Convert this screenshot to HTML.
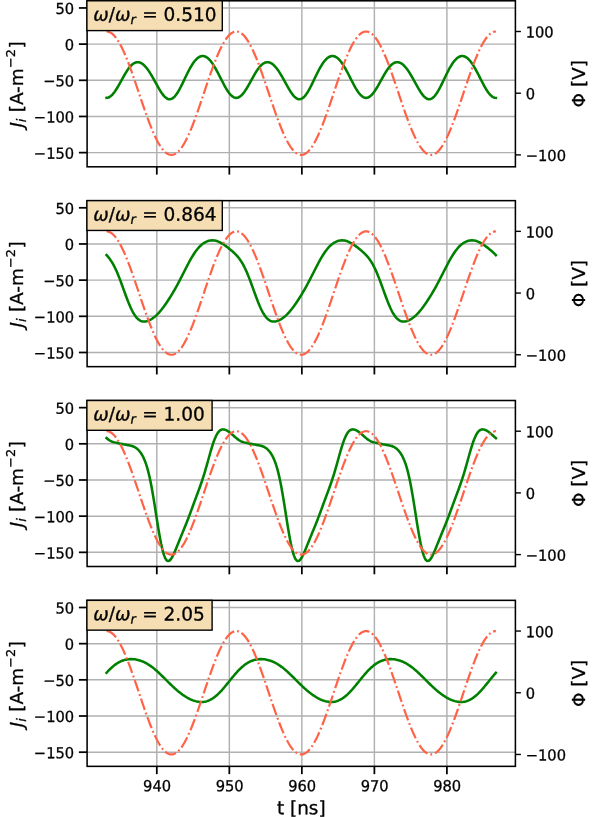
<!DOCTYPE html><html><head><meta charset="utf-8"><title>plot</title><style>html,body{margin:0;padding:0;background:#fff}svg{display:block}text{font-family:'DejaVu Sans', 'Liberation Sans', sans-serif;fill:#000;stroke:#000;stroke-width:0.3px}</style></head><body>
<svg width="594" height="817" viewBox="0 0 594 817">
<rect width="594" height="817" fill="#fff"/>
<g>
<clipPath id="c0"><rect x="87.10" y="0.80" width="428.30" height="166.00"/></clipPath>
<line x1="156.80" y1="0.80" x2="156.80" y2="166.80" stroke="#b0b0b0" stroke-width="1.45"/>
<line x1="229.33" y1="0.80" x2="229.33" y2="166.80" stroke="#b0b0b0" stroke-width="1.45"/>
<line x1="301.85" y1="0.80" x2="301.85" y2="166.80" stroke="#b0b0b0" stroke-width="1.45"/>
<line x1="374.38" y1="0.80" x2="374.38" y2="166.80" stroke="#b0b0b0" stroke-width="1.45"/>
<line x1="446.90" y1="0.80" x2="446.90" y2="166.80" stroke="#b0b0b0" stroke-width="1.45"/>
<line x1="87.10" y1="7.95" x2="515.40" y2="7.95" stroke="#b0b0b0" stroke-width="1.45"/>
<line x1="87.10" y1="44.12" x2="515.40" y2="44.12" stroke="#b0b0b0" stroke-width="1.45"/>
<line x1="87.10" y1="80.29" x2="515.40" y2="80.29" stroke="#b0b0b0" stroke-width="1.45"/>
<line x1="87.10" y1="116.46" x2="515.40" y2="116.46" stroke="#b0b0b0" stroke-width="1.45"/>
<line x1="87.10" y1="152.63" x2="515.40" y2="152.63" stroke="#b0b0b0" stroke-width="1.45"/>
<path d="M106.54 97.87 L107.52 97.77 L108.49 97.48 L109.47 97.01 L110.44 96.37 L111.42 95.55 L112.40 94.58 L113.37 93.45 L114.35 92.19 L115.32 90.81 L116.30 89.32 L117.27 87.73 L118.25 86.08 L119.23 84.36 L120.20 82.61 L121.18 80.84 L122.15 79.07 L123.13 77.31 L124.10 75.59 L125.08 73.92 L126.06 72.31 L127.03 70.78 L128.01 69.35 L128.98 68.03 L129.96 66.82 L130.94 65.73 L131.91 64.78 L132.89 63.97 L133.86 63.31 L134.84 62.79 L135.81 62.43 L136.79 62.21 L137.77 62.15 L138.74 62.24 L139.72 62.47 L140.69 62.86 L141.67 63.38 L142.65 64.04 L143.62 64.84 L144.60 65.76 L145.57 66.80 L146.55 67.97 L147.52 69.24 L148.50 70.61 L149.48 72.07 L150.45 73.61 L151.43 75.23 L152.40 76.90 L153.38 78.62 L154.36 80.38 L155.33 82.15 L156.31 83.93 L157.28 85.69 L158.26 87.42 L159.23 89.09 L160.21 90.70 L161.19 92.23 L162.16 93.64 L163.14 94.93 L164.11 96.08 L165.09 97.07 L166.06 97.89 L167.04 98.53 L168.02 98.97 L168.99 99.21 L169.97 99.25 L170.94 99.07 L171.92 98.68 L172.90 98.08 L173.87 97.28 L174.85 96.28 L175.82 95.11 L176.80 93.76 L177.77 92.26 L178.75 90.63 L179.73 88.87 L180.70 87.02 L181.68 85.09 L182.65 83.10 L183.63 81.08 L184.61 79.04 L185.58 77.00 L186.56 74.98 L187.53 73.01 L188.51 71.09 L189.48 69.24 L190.46 67.48 L191.44 65.81 L192.41 64.25 L193.39 62.81 L194.36 61.49 L195.34 60.31 L196.32 59.26 L197.29 58.35 L198.27 57.59 L199.24 56.98 L200.22 56.52 L201.19 56.21 L202.17 56.06 L203.15 56.06 L204.12 56.21 L205.10 56.52 L206.07 56.98 L207.05 57.58 L208.03 58.34 L209.00 59.24 L209.98 60.28 L210.95 61.44 L211.93 62.74 L212.90 64.15 L213.88 65.67 L214.86 67.29 L215.83 69.00 L216.81 70.78 L217.78 72.62 L218.76 74.50 L219.73 76.41 L220.71 78.34 L221.69 80.26 L222.66 82.16 L223.64 84.03 L224.61 85.83 L225.59 87.57 L226.57 89.21 L227.54 90.75 L228.52 92.17 L229.49 93.46 L230.47 94.60 L231.44 95.58 L232.42 96.40 L233.40 97.04 L234.37 97.50 L235.35 97.78 L236.32 97.87 L237.30 97.77 L238.28 97.48 L239.25 97.01 L240.23 96.37 L241.20 95.55 L242.18 94.58 L243.15 93.45 L244.13 92.19 L245.11 90.81 L246.08 89.32 L247.06 87.73 L248.03 86.08 L249.01 84.36 L249.99 82.61 L250.96 80.84 L251.94 79.07 L252.91 77.31 L253.89 75.59 L254.86 73.92 L255.84 72.31 L256.82 70.78 L257.79 69.35 L258.77 68.03 L259.74 66.82 L260.72 65.73 L261.69 64.78 L262.67 63.97 L263.65 63.31 L264.62 62.79 L265.60 62.43 L266.57 62.21 L267.55 62.15 L268.53 62.24 L269.50 62.47 L270.48 62.86 L271.45 63.38 L272.43 64.04 L273.40 64.84 L274.38 65.76 L275.36 66.80 L276.33 67.97 L277.31 69.24 L278.28 70.61 L279.26 72.07 L280.24 73.61 L281.21 75.23 L282.19 76.90 L283.16 78.62 L284.14 80.38 L285.11 82.15 L286.09 83.93 L287.07 85.69 L288.04 87.42 L289.02 89.09 L289.99 90.70 L290.97 92.23 L291.95 93.64 L292.92 94.93 L293.90 96.08 L294.87 97.07 L295.85 97.89 L296.82 98.53 L297.80 98.97 L298.78 99.21 L299.75 99.25 L300.73 99.07 L301.70 98.68 L302.68 98.08 L303.65 97.28 L304.63 96.28 L305.61 95.11 L306.58 93.76 L307.56 92.26 L308.53 90.63 L309.51 88.87 L310.49 87.02 L311.46 85.09 L312.44 83.10 L313.41 81.08 L314.39 79.04 L315.36 77.00 L316.34 74.98 L317.32 73.01 L318.29 71.09 L319.27 69.24 L320.24 67.48 L321.22 65.81 L322.20 64.25 L323.17 62.81 L324.15 61.49 L325.12 60.31 L326.10 59.26 L327.07 58.35 L328.05 57.59 L329.03 56.98 L330.00 56.52 L330.98 56.21 L331.95 56.06 L332.93 56.06 L333.91 56.21 L334.88 56.52 L335.86 56.98 L336.83 57.58 L337.81 58.34 L338.78 59.24 L339.76 60.28 L340.74 61.44 L341.71 62.74 L342.69 64.15 L343.66 65.67 L344.64 67.29 L345.62 69.00 L346.59 70.78 L347.57 72.62 L348.54 74.50 L349.52 76.41 L350.49 78.34 L351.47 80.26 L352.45 82.16 L353.42 84.03 L354.40 85.83 L355.37 87.57 L356.35 89.21 L357.32 90.75 L358.30 92.17 L359.28 93.46 L360.25 94.60 L361.23 95.58 L362.20 96.40 L363.18 97.04 L364.16 97.50 L365.13 97.78 L366.11 97.87 L367.08 97.77 L368.06 97.48 L369.03 97.01 L370.01 96.37 L370.99 95.55 L371.96 94.58 L372.94 93.45 L373.91 92.19 L374.89 90.81 L375.87 89.32 L376.84 87.73 L377.82 86.08 L378.79 84.36 L379.77 82.61 L380.74 80.84 L381.72 79.07 L382.70 77.31 L383.67 75.59 L384.65 73.92 L385.62 72.31 L386.60 70.78 L387.58 69.35 L388.55 68.03 L389.53 66.82 L390.50 65.73 L391.48 64.78 L392.45 63.97 L393.43 63.31 L394.41 62.79 L395.38 62.43 L396.36 62.21 L397.33 62.15 L398.31 62.24 L399.28 62.47 L400.26 62.86 L401.24 63.38 L402.21 64.04 L403.19 64.84 L404.16 65.76 L405.14 66.80 L406.12 67.97 L407.09 69.24 L408.07 70.61 L409.04 72.07 L410.02 73.61 L410.99 75.23 L411.97 76.90 L412.95 78.62 L413.92 80.38 L414.90 82.15 L415.87 83.93 L416.85 85.69 L417.83 87.42 L418.80 89.09 L419.78 90.70 L420.75 92.23 L421.73 93.64 L422.70 94.93 L423.68 96.08 L424.66 97.07 L425.63 97.89 L426.61 98.53 L427.58 98.97 L428.56 99.21 L429.54 99.25 L430.51 99.07 L431.49 98.68 L432.46 98.08 L433.44 97.28 L434.41 96.28 L435.39 95.11 L436.37 93.76 L437.34 92.26 L438.32 90.63 L439.29 88.87 L440.27 87.02 L441.24 85.09 L442.22 83.10 L443.20 81.08 L444.17 79.04 L445.15 77.00 L446.12 74.98 L447.10 73.01 L448.08 71.09 L449.05 69.24 L450.03 67.48 L451.00 65.81 L451.98 64.25 L452.95 62.81 L453.93 61.49 L454.91 60.31 L455.88 59.26 L456.86 58.35 L457.83 57.59 L458.81 56.98 L459.79 56.52 L460.76 56.21 L461.74 56.06 L462.71 56.06 L463.69 56.21 L464.66 56.52 L465.64 56.98 L466.62 57.58 L467.59 58.34 L468.57 59.24 L469.54 60.28 L470.52 61.44 L471.50 62.74 L472.47 64.15 L473.45 65.67 L474.42 67.29 L475.40 69.00 L476.37 70.78 L477.35 72.62 L478.33 74.50 L479.30 76.41 L480.28 78.34 L481.25 80.26 L482.23 82.16 L483.21 84.03 L484.18 85.83 L485.16 87.57 L486.13 89.21 L487.11 90.75 L488.08 92.17 L489.06 93.46 L490.04 94.60 L491.01 95.58 L491.99 96.40 L492.96 97.04 L493.94 97.50 L494.91 97.78 L495.89 97.87" fill="none" stroke="#008000" stroke-width="2.55" stroke-linejoin="round" stroke-linecap="square" clip-path="url(#c0)"/>
<line x1="78.90" y1="7.95" x2="87.10" y2="7.95" stroke="#000" stroke-width="1.75"/>
<text transform="translate(74.15 14.05) rotate(0.05) scale(0.960 1)" font-size="15.28" text-anchor="end">50</text>
<line x1="78.90" y1="44.12" x2="87.10" y2="44.12" stroke="#000" stroke-width="1.75"/>
<text transform="translate(74.15 50.22) rotate(0.05) scale(0.960 1)" font-size="15.28" text-anchor="end">0</text>
<line x1="78.90" y1="80.29" x2="87.10" y2="80.29" stroke="#000" stroke-width="1.75"/>
<text transform="translate(74.15 86.39) rotate(0.05) scale(0.960 1)" font-size="15.28" text-anchor="end">−50</text>
<line x1="78.90" y1="116.46" x2="87.10" y2="116.46" stroke="#000" stroke-width="1.75"/>
<text transform="translate(74.15 122.56) rotate(0.05) scale(0.960 1)" font-size="15.28" text-anchor="end">−100</text>
<line x1="78.90" y1="152.63" x2="87.10" y2="152.63" stroke="#000" stroke-width="1.75"/>
<text transform="translate(74.15 158.73) rotate(0.05) scale(0.960 1)" font-size="15.28" text-anchor="end">−150</text>
<line x1="156.80" y1="166.80" x2="156.80" y2="174.60" stroke="#000" stroke-width="1.75"/>
<line x1="229.33" y1="166.80" x2="229.33" y2="174.60" stroke="#000" stroke-width="1.75"/>
<line x1="301.85" y1="166.80" x2="301.85" y2="174.60" stroke="#000" stroke-width="1.75"/>
<line x1="374.38" y1="166.80" x2="374.38" y2="174.60" stroke="#000" stroke-width="1.75"/>
<line x1="446.90" y1="166.80" x2="446.90" y2="174.60" stroke="#000" stroke-width="1.75"/>
<g transform="translate(23.00 127.59) rotate(-90)"><text font-size="18.40">
<tspan x="0.00" y="-0.26" font-style="oblique">J</tspan><tspan x="5.43" y="2.76" font-style="oblique" font-size="12.88">i</tspan><tspan x="15.36" y="-0.26">[A-m</tspan><tspan x="59.48" y="-7.97" font-size="12.88">−2</tspan><tspan x="78.97" y="-0.26">]</tspan>
</text></g>
<path d="M106.54 31.50 L107.52 31.57 L108.49 31.78 L109.47 32.12 L110.44 32.60 L111.42 33.21 L112.40 33.96 L113.37 34.84 L114.35 35.85 L115.32 36.99 L116.30 38.26 L117.27 39.65 L118.25 41.15 L119.23 42.77 L120.20 44.51 L121.18 46.35 L122.15 48.30 L123.13 50.35 L124.10 52.50 L125.08 54.73 L126.06 57.05 L127.03 59.45 L128.01 61.93 L128.98 64.48 L129.96 67.09 L130.94 69.76 L131.91 72.48 L132.89 75.25 L133.86 78.05 L134.84 80.90 L135.81 83.76 L136.79 86.65 L137.77 89.56 L138.74 92.47 L139.72 95.39 L140.69 98.30 L141.67 101.19 L142.65 104.07 L143.62 106.93 L144.60 109.75 L145.57 112.54 L146.55 115.29 L147.52 117.98 L148.50 120.63 L149.48 123.20 L150.45 125.72 L151.43 128.16 L152.40 130.52 L153.38 132.80 L154.36 134.99 L155.33 137.09 L156.31 139.08 L157.28 140.98 L158.26 142.77 L159.23 144.45 L160.21 146.02 L161.19 147.46 L162.16 148.79 L163.14 149.99 L164.11 151.07 L165.09 152.01 L166.06 152.83 L167.04 153.51 L168.02 154.06 L168.99 154.47 L169.97 154.75 L170.94 154.88 L171.92 154.88 L172.90 154.75 L173.87 154.47 L174.85 154.06 L175.82 153.51 L176.80 152.83 L177.77 152.01 L178.75 151.07 L179.73 149.99 L180.70 148.79 L181.68 147.46 L182.65 146.02 L183.63 144.45 L184.61 142.77 L185.58 140.98 L186.56 139.08 L187.53 137.09 L188.51 134.99 L189.48 132.80 L190.46 130.52 L191.44 128.16 L192.41 125.72 L193.39 123.20 L194.36 120.63 L195.34 117.98 L196.32 115.29 L197.29 112.54 L198.27 109.75 L199.24 106.93 L200.22 104.07 L201.19 101.19 L202.17 98.30 L203.15 95.39 L204.12 92.47 L205.10 89.56 L206.07 86.65 L207.05 83.76 L208.03 80.90 L209.00 78.05 L209.98 75.25 L210.95 72.48 L211.93 69.76 L212.90 67.09 L213.88 64.48 L214.86 61.93 L215.83 59.45 L216.81 57.05 L217.78 54.73 L218.76 52.50 L219.73 50.35 L220.71 48.30 L221.69 46.35 L222.66 44.51 L223.64 42.77 L224.61 41.15 L225.59 39.65 L226.57 38.26 L227.54 36.99 L228.52 35.85 L229.49 34.84 L230.47 33.96 L231.44 33.21 L232.42 32.60 L233.40 32.12 L234.37 31.78 L235.35 31.57 L236.32 31.50 L237.30 31.57 L238.28 31.78 L239.25 32.12 L240.23 32.60 L241.20 33.21 L242.18 33.96 L243.15 34.84 L244.13 35.85 L245.11 36.99 L246.08 38.26 L247.06 39.65 L248.03 41.15 L249.01 42.77 L249.99 44.51 L250.96 46.35 L251.94 48.30 L252.91 50.35 L253.89 52.50 L254.86 54.73 L255.84 57.05 L256.82 59.45 L257.79 61.93 L258.77 64.48 L259.74 67.09 L260.72 69.76 L261.69 72.48 L262.67 75.25 L263.65 78.05 L264.62 80.90 L265.60 83.76 L266.57 86.65 L267.55 89.56 L268.53 92.47 L269.50 95.39 L270.48 98.30 L271.45 101.19 L272.43 104.07 L273.40 106.93 L274.38 109.75 L275.36 112.54 L276.33 115.29 L277.31 117.98 L278.28 120.63 L279.26 123.20 L280.24 125.72 L281.21 128.16 L282.19 130.52 L283.16 132.80 L284.14 134.99 L285.11 137.09 L286.09 139.08 L287.07 140.98 L288.04 142.77 L289.02 144.45 L289.99 146.02 L290.97 147.46 L291.95 148.79 L292.92 149.99 L293.90 151.07 L294.87 152.01 L295.85 152.83 L296.82 153.51 L297.80 154.06 L298.78 154.47 L299.75 154.75 L300.73 154.88 L301.70 154.88 L302.68 154.75 L303.65 154.47 L304.63 154.06 L305.61 153.51 L306.58 152.83 L307.56 152.01 L308.53 151.07 L309.51 149.99 L310.49 148.79 L311.46 147.46 L312.44 146.02 L313.41 144.45 L314.39 142.77 L315.36 140.98 L316.34 139.08 L317.32 137.09 L318.29 134.99 L319.27 132.80 L320.24 130.52 L321.22 128.16 L322.20 125.72 L323.17 123.20 L324.15 120.63 L325.12 117.98 L326.10 115.29 L327.07 112.54 L328.05 109.75 L329.03 106.93 L330.00 104.07 L330.98 101.19 L331.95 98.30 L332.93 95.39 L333.91 92.47 L334.88 89.56 L335.86 86.65 L336.83 83.76 L337.81 80.90 L338.78 78.05 L339.76 75.25 L340.74 72.48 L341.71 69.76 L342.69 67.09 L343.66 64.48 L344.64 61.93 L345.62 59.45 L346.59 57.05 L347.57 54.73 L348.54 52.50 L349.52 50.35 L350.49 48.30 L351.47 46.35 L352.45 44.51 L353.42 42.77 L354.40 41.15 L355.37 39.65 L356.35 38.26 L357.32 36.99 L358.30 35.85 L359.28 34.84 L360.25 33.96 L361.23 33.21 L362.20 32.60 L363.18 32.12 L364.16 31.78 L365.13 31.57 L366.11 31.50 L367.08 31.57 L368.06 31.78 L369.03 32.12 L370.01 32.60 L370.99 33.21 L371.96 33.96 L372.94 34.84 L373.91 35.85 L374.89 36.99 L375.87 38.26 L376.84 39.65 L377.82 41.15 L378.79 42.77 L379.77 44.51 L380.74 46.35 L381.72 48.30 L382.70 50.35 L383.67 52.50 L384.65 54.73 L385.62 57.05 L386.60 59.45 L387.58 61.93 L388.55 64.48 L389.53 67.09 L390.50 69.76 L391.48 72.48 L392.45 75.25 L393.43 78.05 L394.41 80.90 L395.38 83.76 L396.36 86.65 L397.33 89.56 L398.31 92.47 L399.28 95.39 L400.26 98.30 L401.24 101.19 L402.21 104.07 L403.19 106.93 L404.16 109.75 L405.14 112.54 L406.12 115.29 L407.09 117.98 L408.07 120.63 L409.04 123.20 L410.02 125.72 L410.99 128.16 L411.97 130.52 L412.95 132.80 L413.92 134.99 L414.90 137.09 L415.87 139.08 L416.85 140.98 L417.83 142.77 L418.80 144.45 L419.78 146.02 L420.75 147.46 L421.73 148.79 L422.70 149.99 L423.68 151.07 L424.66 152.01 L425.63 152.83 L426.61 153.51 L427.58 154.06 L428.56 154.47 L429.54 154.75 L430.51 154.88 L431.49 154.88 L432.46 154.75 L433.44 154.47 L434.41 154.06 L435.39 153.51 L436.37 152.83 L437.34 152.01 L438.32 151.07 L439.29 149.99 L440.27 148.79 L441.24 147.46 L442.22 146.02 L443.20 144.45 L444.17 142.77 L445.15 140.98 L446.12 139.08 L447.10 137.09 L448.08 134.99 L449.05 132.80 L450.03 130.52 L451.00 128.16 L451.98 125.72 L452.95 123.20 L453.93 120.63 L454.91 117.98 L455.88 115.29 L456.86 112.54 L457.83 109.75 L458.81 106.93 L459.79 104.07 L460.76 101.19 L461.74 98.30 L462.71 95.39 L463.69 92.47 L464.66 89.56 L465.64 86.65 L466.62 83.76 L467.59 80.90 L468.57 78.05 L469.54 75.25 L470.52 72.48 L471.50 69.76 L472.47 67.09 L473.45 64.48 L474.42 61.93 L475.40 59.45 L476.37 57.05 L477.35 54.73 L478.33 52.50 L479.30 50.35 L480.28 48.30 L481.25 46.35 L482.23 44.51 L483.21 42.77 L484.18 41.15 L485.16 39.65 L486.13 38.26 L487.11 36.99 L488.08 35.85 L489.06 34.84 L490.04 33.96 L491.01 33.21 L491.99 32.60 L492.96 32.12 L493.94 31.78 L494.91 31.57 L495.89 31.50" fill="none" stroke="#ff6347" stroke-width="2.2" stroke-dasharray="11.815 2.946 1.842 2.946" clip-path="url(#c0)"/>
<line x1="515.40" y1="31.50" x2="520.90" y2="31.50" stroke="#000" stroke-width="1.40"/>
<text transform="translate(525.70 37.60) rotate(0.05) scale(0.960 1)" font-size="15.28" text-anchor="start">100</text>
<line x1="515.40" y1="93.20" x2="520.90" y2="93.20" stroke="#000" stroke-width="1.40"/>
<text transform="translate(525.70 99.30) rotate(0.05) scale(0.960 1)" font-size="15.28" text-anchor="start">0</text>
<line x1="515.40" y1="154.90" x2="520.90" y2="154.90" stroke="#000" stroke-width="1.40"/>
<text transform="translate(525.70 161.00) rotate(0.05) scale(0.960 1)" font-size="15.28" text-anchor="start">−100</text>
<g transform="translate(585.40 107.41) rotate(-90)"><text font-size="18.40">Φ [V]</text></g>
<rect x="87.10" y="0.80" width="428.30" height="166.00" fill="none" stroke="#000" stroke-width="1.55"/>
<rect x="86.90" y="0.80" width="135.40" height="29.80" fill="#f5deb3" stroke="#000" stroke-width="1.4"/>
<text transform="translate(93.30 20.80) rotate(0.05)" font-size="18.50"><tspan x="0.00" y="0.00" font-style="oblique">ω</tspan><tspan x="15.49" y="0.00">/</tspan><tspan x="21.72" y="0.00" font-style="oblique">ω</tspan><tspan x="37.22" y="3.04" font-style="oblique" font-size="12.95">r</tspan><tspan x="48.93" y="0.00">= 0.510</tspan></text>
</g>
<g>
<clipPath id="c1"><rect x="87.10" y="200.65" width="428.30" height="166.00"/></clipPath>
<line x1="156.80" y1="200.65" x2="156.80" y2="366.65" stroke="#b0b0b0" stroke-width="1.45"/>
<line x1="229.33" y1="200.65" x2="229.33" y2="366.65" stroke="#b0b0b0" stroke-width="1.45"/>
<line x1="301.85" y1="200.65" x2="301.85" y2="366.65" stroke="#b0b0b0" stroke-width="1.45"/>
<line x1="374.38" y1="200.65" x2="374.38" y2="366.65" stroke="#b0b0b0" stroke-width="1.45"/>
<line x1="446.90" y1="200.65" x2="446.90" y2="366.65" stroke="#b0b0b0" stroke-width="1.45"/>
<line x1="87.10" y1="207.80" x2="515.40" y2="207.80" stroke="#b0b0b0" stroke-width="1.45"/>
<line x1="87.10" y1="243.97" x2="515.40" y2="243.97" stroke="#b0b0b0" stroke-width="1.45"/>
<line x1="87.10" y1="280.14" x2="515.40" y2="280.14" stroke="#b0b0b0" stroke-width="1.45"/>
<line x1="87.10" y1="316.31" x2="515.40" y2="316.31" stroke="#b0b0b0" stroke-width="1.45"/>
<line x1="87.10" y1="352.48" x2="515.40" y2="352.48" stroke="#b0b0b0" stroke-width="1.45"/>
<path d="M106.54 255.09 L107.52 256.17 L108.49 257.33 L109.47 258.58 L110.44 259.94 L111.42 261.40 L112.40 262.99 L113.37 264.70 L114.35 266.54 L115.32 268.51 L116.30 270.61 L117.27 272.83 L118.25 275.17 L119.23 277.62 L120.20 280.16 L121.18 282.77 L122.15 285.44 L123.13 288.14 L124.10 290.85 L125.08 293.55 L126.06 296.22 L127.03 298.82 L128.01 301.35 L128.98 303.77 L129.96 306.07 L130.94 308.24 L131.91 310.26 L132.89 312.11 L133.86 313.80 L134.84 315.31 L135.81 316.65 L136.79 317.82 L137.77 318.81 L138.74 319.64 L139.72 320.31 L140.69 320.83 L141.67 321.20 L142.65 321.45 L143.62 321.57 L144.60 321.58 L145.57 321.49 L146.55 321.30 L147.52 321.03 L148.50 320.67 L149.48 320.23 L150.45 319.73 L151.43 319.15 L152.40 318.51 L153.38 317.80 L154.36 317.04 L155.33 316.21 L156.31 315.32 L157.28 314.37 L158.26 313.36 L159.23 312.30 L160.21 311.19 L161.19 310.02 L162.16 308.80 L163.14 307.53 L164.11 306.22 L165.09 304.86 L166.06 303.47 L167.04 302.03 L168.02 300.56 L168.99 299.05 L169.97 297.51 L170.94 295.93 L171.92 294.32 L172.90 292.68 L173.87 291.01 L174.85 289.30 L175.82 287.56 L176.80 285.80 L177.77 284.00 L178.75 282.17 L179.73 280.32 L180.70 278.44 L181.68 276.54 L182.65 274.63 L183.63 272.71 L184.61 270.79 L185.58 268.87 L186.56 266.97 L187.53 265.08 L188.51 263.23 L189.48 261.42 L190.46 259.65 L191.44 257.94 L192.41 256.30 L193.39 254.72 L194.36 253.22 L195.34 251.80 L196.32 250.46 L197.29 249.21 L198.27 248.04 L199.24 246.97 L200.22 245.98 L201.19 245.08 L202.17 244.27 L203.15 243.53 L204.12 242.88 L205.10 242.31 L206.07 241.82 L207.05 241.40 L208.03 241.05 L209.00 240.78 L209.98 240.57 L210.95 240.44 L211.93 240.38 L212.90 240.38 L213.88 240.45 L214.86 240.60 L215.83 240.80 L216.81 241.08 L217.78 241.41 L218.76 241.81 L219.73 242.26 L220.71 242.76 L221.69 243.31 L222.66 243.91 L223.64 244.54 L224.61 245.21 L225.59 245.90 L226.57 246.62 L227.54 247.36 L228.52 248.12 L229.49 248.89 L230.47 249.69 L231.44 250.50 L232.42 251.34 L233.40 252.21 L234.37 253.12 L235.35 254.08 L236.32 255.09 L237.30 256.17 L238.28 257.33 L239.25 258.58 L240.23 259.94 L241.20 261.40 L242.18 262.99 L243.15 264.70 L244.13 266.54 L245.11 268.51 L246.08 270.61 L247.06 272.83 L248.03 275.17 L249.01 277.62 L249.99 280.16 L250.96 282.77 L251.94 285.44 L252.91 288.14 L253.89 290.85 L254.86 293.55 L255.84 296.22 L256.82 298.82 L257.79 301.35 L258.77 303.77 L259.74 306.07 L260.72 308.24 L261.69 310.26 L262.67 312.11 L263.65 313.80 L264.62 315.31 L265.60 316.65 L266.57 317.82 L267.55 318.81 L268.53 319.64 L269.50 320.31 L270.48 320.83 L271.45 321.20 L272.43 321.45 L273.40 321.57 L274.38 321.58 L275.36 321.49 L276.33 321.30 L277.31 321.03 L278.28 320.67 L279.26 320.23 L280.24 319.73 L281.21 319.15 L282.19 318.51 L283.16 317.80 L284.14 317.04 L285.11 316.21 L286.09 315.32 L287.07 314.37 L288.04 313.36 L289.02 312.30 L289.99 311.19 L290.97 310.02 L291.95 308.80 L292.92 307.53 L293.90 306.22 L294.87 304.86 L295.85 303.47 L296.82 302.03 L297.80 300.56 L298.78 299.05 L299.75 297.51 L300.73 295.93 L301.70 294.32 L302.68 292.68 L303.65 291.01 L304.63 289.30 L305.61 287.56 L306.58 285.80 L307.56 284.00 L308.53 282.17 L309.51 280.32 L310.49 278.44 L311.46 276.54 L312.44 274.63 L313.41 272.71 L314.39 270.79 L315.36 268.87 L316.34 266.97 L317.32 265.08 L318.29 263.23 L319.27 261.42 L320.24 259.65 L321.22 257.94 L322.20 256.30 L323.17 254.72 L324.15 253.22 L325.12 251.80 L326.10 250.46 L327.07 249.21 L328.05 248.04 L329.03 246.97 L330.00 245.98 L330.98 245.08 L331.95 244.27 L332.93 243.53 L333.91 242.88 L334.88 242.31 L335.86 241.82 L336.83 241.40 L337.81 241.05 L338.78 240.78 L339.76 240.57 L340.74 240.44 L341.71 240.38 L342.69 240.38 L343.66 240.45 L344.64 240.60 L345.62 240.80 L346.59 241.08 L347.57 241.41 L348.54 241.81 L349.52 242.26 L350.49 242.76 L351.47 243.31 L352.45 243.91 L353.42 244.54 L354.40 245.21 L355.37 245.90 L356.35 246.62 L357.32 247.36 L358.30 248.12 L359.28 248.89 L360.25 249.69 L361.23 250.50 L362.20 251.34 L363.18 252.21 L364.16 253.12 L365.13 254.08 L366.11 255.09 L367.08 256.17 L368.06 257.33 L369.03 258.58 L370.01 259.94 L370.99 261.40 L371.96 262.99 L372.94 264.70 L373.91 266.54 L374.89 268.51 L375.87 270.61 L376.84 272.83 L377.82 275.17 L378.79 277.62 L379.77 280.16 L380.74 282.77 L381.72 285.44 L382.70 288.14 L383.67 290.85 L384.65 293.55 L385.62 296.22 L386.60 298.82 L387.58 301.35 L388.55 303.77 L389.53 306.07 L390.50 308.24 L391.48 310.26 L392.45 312.11 L393.43 313.80 L394.41 315.31 L395.38 316.65 L396.36 317.82 L397.33 318.81 L398.31 319.64 L399.28 320.31 L400.26 320.83 L401.24 321.20 L402.21 321.45 L403.19 321.57 L404.16 321.58 L405.14 321.49 L406.12 321.30 L407.09 321.03 L408.07 320.67 L409.04 320.23 L410.02 319.73 L410.99 319.15 L411.97 318.51 L412.95 317.80 L413.92 317.04 L414.90 316.21 L415.87 315.32 L416.85 314.37 L417.83 313.36 L418.80 312.30 L419.78 311.19 L420.75 310.02 L421.73 308.80 L422.70 307.53 L423.68 306.22 L424.66 304.86 L425.63 303.47 L426.61 302.03 L427.58 300.56 L428.56 299.05 L429.54 297.51 L430.51 295.93 L431.49 294.32 L432.46 292.68 L433.44 291.01 L434.41 289.30 L435.39 287.56 L436.37 285.80 L437.34 284.00 L438.32 282.17 L439.29 280.32 L440.27 278.44 L441.24 276.54 L442.22 274.63 L443.20 272.71 L444.17 270.79 L445.15 268.87 L446.12 266.97 L447.10 265.08 L448.08 263.23 L449.05 261.42 L450.03 259.65 L451.00 257.94 L451.98 256.30 L452.95 254.72 L453.93 253.22 L454.91 251.80 L455.88 250.46 L456.86 249.21 L457.83 248.04 L458.81 246.97 L459.79 245.98 L460.76 245.08 L461.74 244.27 L462.71 243.53 L463.69 242.88 L464.66 242.31 L465.64 241.82 L466.62 241.40 L467.59 241.05 L468.57 240.78 L469.54 240.57 L470.52 240.44 L471.50 240.38 L472.47 240.38 L473.45 240.45 L474.42 240.60 L475.40 240.80 L476.37 241.08 L477.35 241.41 L478.33 241.81 L479.30 242.26 L480.28 242.76 L481.25 243.31 L482.23 243.91 L483.21 244.54 L484.18 245.21 L485.16 245.90 L486.13 246.62 L487.11 247.36 L488.08 248.12 L489.06 248.89 L490.04 249.69 L491.01 250.50 L491.99 251.34 L492.96 252.21 L493.94 253.12 L494.91 254.08 L495.89 255.09" fill="none" stroke="#008000" stroke-width="2.55" stroke-linejoin="round" stroke-linecap="square" clip-path="url(#c1)"/>
<line x1="78.90" y1="207.80" x2="87.10" y2="207.80" stroke="#000" stroke-width="1.75"/>
<text transform="translate(74.15 213.90) rotate(0.05) scale(0.960 1)" font-size="15.28" text-anchor="end">50</text>
<line x1="78.90" y1="243.97" x2="87.10" y2="243.97" stroke="#000" stroke-width="1.75"/>
<text transform="translate(74.15 250.07) rotate(0.05) scale(0.960 1)" font-size="15.28" text-anchor="end">0</text>
<line x1="78.90" y1="280.14" x2="87.10" y2="280.14" stroke="#000" stroke-width="1.75"/>
<text transform="translate(74.15 286.24) rotate(0.05) scale(0.960 1)" font-size="15.28" text-anchor="end">−50</text>
<line x1="78.90" y1="316.31" x2="87.10" y2="316.31" stroke="#000" stroke-width="1.75"/>
<text transform="translate(74.15 322.41) rotate(0.05) scale(0.960 1)" font-size="15.28" text-anchor="end">−100</text>
<line x1="78.90" y1="352.48" x2="87.10" y2="352.48" stroke="#000" stroke-width="1.75"/>
<text transform="translate(74.15 358.58) rotate(0.05) scale(0.960 1)" font-size="15.28" text-anchor="end">−150</text>
<line x1="156.80" y1="366.65" x2="156.80" y2="374.45" stroke="#000" stroke-width="1.75"/>
<line x1="229.33" y1="366.65" x2="229.33" y2="374.45" stroke="#000" stroke-width="1.75"/>
<line x1="301.85" y1="366.65" x2="301.85" y2="374.45" stroke="#000" stroke-width="1.75"/>
<line x1="374.38" y1="366.65" x2="374.38" y2="374.45" stroke="#000" stroke-width="1.75"/>
<line x1="446.90" y1="366.65" x2="446.90" y2="374.45" stroke="#000" stroke-width="1.75"/>
<g transform="translate(23.00 327.44) rotate(-90)"><text font-size="18.40">
<tspan x="0.00" y="-0.26" font-style="oblique">J</tspan><tspan x="5.43" y="2.76" font-style="oblique" font-size="12.88">i</tspan><tspan x="15.36" y="-0.26">[A-m</tspan><tspan x="59.48" y="-7.97" font-size="12.88">−2</tspan><tspan x="78.97" y="-0.26">]</tspan>
</text></g>
<path d="M106.54 231.35 L107.52 231.42 L108.49 231.63 L109.47 231.97 L110.44 232.45 L111.42 233.06 L112.40 233.81 L113.37 234.69 L114.35 235.70 L115.32 236.84 L116.30 238.11 L117.27 239.50 L118.25 241.00 L119.23 242.62 L120.20 244.36 L121.18 246.20 L122.15 248.15 L123.13 250.20 L124.10 252.35 L125.08 254.58 L126.06 256.90 L127.03 259.30 L128.01 261.78 L128.98 264.33 L129.96 266.94 L130.94 269.61 L131.91 272.33 L132.89 275.10 L133.86 277.90 L134.84 280.75 L135.81 283.61 L136.79 286.50 L137.77 289.41 L138.74 292.32 L139.72 295.24 L140.69 298.15 L141.67 301.04 L142.65 303.92 L143.62 306.78 L144.60 309.60 L145.57 312.39 L146.55 315.14 L147.52 317.83 L148.50 320.48 L149.48 323.05 L150.45 325.57 L151.43 328.01 L152.40 330.37 L153.38 332.65 L154.36 334.84 L155.33 336.94 L156.31 338.93 L157.28 340.83 L158.26 342.62 L159.23 344.30 L160.21 345.87 L161.19 347.31 L162.16 348.64 L163.14 349.84 L164.11 350.92 L165.09 351.86 L166.06 352.68 L167.04 353.36 L168.02 353.91 L168.99 354.32 L169.97 354.60 L170.94 354.73 L171.92 354.73 L172.90 354.60 L173.87 354.32 L174.85 353.91 L175.82 353.36 L176.80 352.68 L177.77 351.86 L178.75 350.92 L179.73 349.84 L180.70 348.64 L181.68 347.31 L182.65 345.87 L183.63 344.30 L184.61 342.62 L185.58 340.83 L186.56 338.93 L187.53 336.94 L188.51 334.84 L189.48 332.65 L190.46 330.37 L191.44 328.01 L192.41 325.57 L193.39 323.05 L194.36 320.48 L195.34 317.83 L196.32 315.14 L197.29 312.39 L198.27 309.60 L199.24 306.78 L200.22 303.92 L201.19 301.04 L202.17 298.15 L203.15 295.24 L204.12 292.32 L205.10 289.41 L206.07 286.50 L207.05 283.61 L208.03 280.75 L209.00 277.90 L209.98 275.10 L210.95 272.33 L211.93 269.61 L212.90 266.94 L213.88 264.33 L214.86 261.78 L215.83 259.30 L216.81 256.90 L217.78 254.58 L218.76 252.35 L219.73 250.20 L220.71 248.15 L221.69 246.20 L222.66 244.36 L223.64 242.62 L224.61 241.00 L225.59 239.50 L226.57 238.11 L227.54 236.84 L228.52 235.70 L229.49 234.69 L230.47 233.81 L231.44 233.06 L232.42 232.45 L233.40 231.97 L234.37 231.63 L235.35 231.42 L236.32 231.35 L237.30 231.42 L238.28 231.63 L239.25 231.97 L240.23 232.45 L241.20 233.06 L242.18 233.81 L243.15 234.69 L244.13 235.70 L245.11 236.84 L246.08 238.11 L247.06 239.50 L248.03 241.00 L249.01 242.62 L249.99 244.36 L250.96 246.20 L251.94 248.15 L252.91 250.20 L253.89 252.35 L254.86 254.58 L255.84 256.90 L256.82 259.30 L257.79 261.78 L258.77 264.33 L259.74 266.94 L260.72 269.61 L261.69 272.33 L262.67 275.10 L263.65 277.90 L264.62 280.75 L265.60 283.61 L266.57 286.50 L267.55 289.41 L268.53 292.32 L269.50 295.24 L270.48 298.15 L271.45 301.04 L272.43 303.92 L273.40 306.78 L274.38 309.60 L275.36 312.39 L276.33 315.14 L277.31 317.83 L278.28 320.48 L279.26 323.05 L280.24 325.57 L281.21 328.01 L282.19 330.37 L283.16 332.65 L284.14 334.84 L285.11 336.94 L286.09 338.93 L287.07 340.83 L288.04 342.62 L289.02 344.30 L289.99 345.87 L290.97 347.31 L291.95 348.64 L292.92 349.84 L293.90 350.92 L294.87 351.86 L295.85 352.68 L296.82 353.36 L297.80 353.91 L298.78 354.32 L299.75 354.60 L300.73 354.73 L301.70 354.73 L302.68 354.60 L303.65 354.32 L304.63 353.91 L305.61 353.36 L306.58 352.68 L307.56 351.86 L308.53 350.92 L309.51 349.84 L310.49 348.64 L311.46 347.31 L312.44 345.87 L313.41 344.30 L314.39 342.62 L315.36 340.83 L316.34 338.93 L317.32 336.94 L318.29 334.84 L319.27 332.65 L320.24 330.37 L321.22 328.01 L322.20 325.57 L323.17 323.05 L324.15 320.48 L325.12 317.83 L326.10 315.14 L327.07 312.39 L328.05 309.60 L329.03 306.78 L330.00 303.92 L330.98 301.04 L331.95 298.15 L332.93 295.24 L333.91 292.32 L334.88 289.41 L335.86 286.50 L336.83 283.61 L337.81 280.75 L338.78 277.90 L339.76 275.10 L340.74 272.33 L341.71 269.61 L342.69 266.94 L343.66 264.33 L344.64 261.78 L345.62 259.30 L346.59 256.90 L347.57 254.58 L348.54 252.35 L349.52 250.20 L350.49 248.15 L351.47 246.20 L352.45 244.36 L353.42 242.62 L354.40 241.00 L355.37 239.50 L356.35 238.11 L357.32 236.84 L358.30 235.70 L359.28 234.69 L360.25 233.81 L361.23 233.06 L362.20 232.45 L363.18 231.97 L364.16 231.63 L365.13 231.42 L366.11 231.35 L367.08 231.42 L368.06 231.63 L369.03 231.97 L370.01 232.45 L370.99 233.06 L371.96 233.81 L372.94 234.69 L373.91 235.70 L374.89 236.84 L375.87 238.11 L376.84 239.50 L377.82 241.00 L378.79 242.62 L379.77 244.36 L380.74 246.20 L381.72 248.15 L382.70 250.20 L383.67 252.35 L384.65 254.58 L385.62 256.90 L386.60 259.30 L387.58 261.78 L388.55 264.33 L389.53 266.94 L390.50 269.61 L391.48 272.33 L392.45 275.10 L393.43 277.90 L394.41 280.75 L395.38 283.61 L396.36 286.50 L397.33 289.41 L398.31 292.32 L399.28 295.24 L400.26 298.15 L401.24 301.04 L402.21 303.92 L403.19 306.78 L404.16 309.60 L405.14 312.39 L406.12 315.14 L407.09 317.83 L408.07 320.48 L409.04 323.05 L410.02 325.57 L410.99 328.01 L411.97 330.37 L412.95 332.65 L413.92 334.84 L414.90 336.94 L415.87 338.93 L416.85 340.83 L417.83 342.62 L418.80 344.30 L419.78 345.87 L420.75 347.31 L421.73 348.64 L422.70 349.84 L423.68 350.92 L424.66 351.86 L425.63 352.68 L426.61 353.36 L427.58 353.91 L428.56 354.32 L429.54 354.60 L430.51 354.73 L431.49 354.73 L432.46 354.60 L433.44 354.32 L434.41 353.91 L435.39 353.36 L436.37 352.68 L437.34 351.86 L438.32 350.92 L439.29 349.84 L440.27 348.64 L441.24 347.31 L442.22 345.87 L443.20 344.30 L444.17 342.62 L445.15 340.83 L446.12 338.93 L447.10 336.94 L448.08 334.84 L449.05 332.65 L450.03 330.37 L451.00 328.01 L451.98 325.57 L452.95 323.05 L453.93 320.48 L454.91 317.83 L455.88 315.14 L456.86 312.39 L457.83 309.60 L458.81 306.78 L459.79 303.92 L460.76 301.04 L461.74 298.15 L462.71 295.24 L463.69 292.32 L464.66 289.41 L465.64 286.50 L466.62 283.61 L467.59 280.75 L468.57 277.90 L469.54 275.10 L470.52 272.33 L471.50 269.61 L472.47 266.94 L473.45 264.33 L474.42 261.78 L475.40 259.30 L476.37 256.90 L477.35 254.58 L478.33 252.35 L479.30 250.20 L480.28 248.15 L481.25 246.20 L482.23 244.36 L483.21 242.62 L484.18 241.00 L485.16 239.50 L486.13 238.11 L487.11 236.84 L488.08 235.70 L489.06 234.69 L490.04 233.81 L491.01 233.06 L491.99 232.45 L492.96 231.97 L493.94 231.63 L494.91 231.42 L495.89 231.35" fill="none" stroke="#ff6347" stroke-width="2.2" stroke-dasharray="11.815 2.946 1.842 2.946" clip-path="url(#c1)"/>
<line x1="515.40" y1="231.35" x2="520.90" y2="231.35" stroke="#000" stroke-width="1.40"/>
<text transform="translate(525.70 237.45) rotate(0.05) scale(0.960 1)" font-size="15.28" text-anchor="start">100</text>
<line x1="515.40" y1="293.05" x2="520.90" y2="293.05" stroke="#000" stroke-width="1.40"/>
<text transform="translate(525.70 299.15) rotate(0.05) scale(0.960 1)" font-size="15.28" text-anchor="start">0</text>
<line x1="515.40" y1="354.75" x2="520.90" y2="354.75" stroke="#000" stroke-width="1.40"/>
<text transform="translate(525.70 360.85) rotate(0.05) scale(0.960 1)" font-size="15.28" text-anchor="start">−100</text>
<g transform="translate(585.40 307.26) rotate(-90)"><text font-size="18.40">Φ [V]</text></g>
<rect x="87.10" y="200.65" width="428.30" height="166.00" fill="none" stroke="#000" stroke-width="1.55"/>
<rect x="86.90" y="200.65" width="135.40" height="29.80" fill="#f5deb3" stroke="#000" stroke-width="1.4"/>
<text transform="translate(93.30 220.65) rotate(0.05)" font-size="18.50"><tspan x="0.00" y="0.00" font-style="oblique">ω</tspan><tspan x="15.49" y="0.00">/</tspan><tspan x="21.72" y="0.00" font-style="oblique">ω</tspan><tspan x="37.22" y="3.04" font-style="oblique" font-size="12.95">r</tspan><tspan x="48.93" y="0.00">= 0.864</tspan></text>
</g>
<g>
<clipPath id="c2"><rect x="87.10" y="400.50" width="428.30" height="166.00"/></clipPath>
<line x1="156.80" y1="400.50" x2="156.80" y2="566.50" stroke="#b0b0b0" stroke-width="1.45"/>
<line x1="229.33" y1="400.50" x2="229.33" y2="566.50" stroke="#b0b0b0" stroke-width="1.45"/>
<line x1="301.85" y1="400.50" x2="301.85" y2="566.50" stroke="#b0b0b0" stroke-width="1.45"/>
<line x1="374.38" y1="400.50" x2="374.38" y2="566.50" stroke="#b0b0b0" stroke-width="1.45"/>
<line x1="446.90" y1="400.50" x2="446.90" y2="566.50" stroke="#b0b0b0" stroke-width="1.45"/>
<line x1="87.10" y1="407.65" x2="515.40" y2="407.65" stroke="#b0b0b0" stroke-width="1.45"/>
<line x1="87.10" y1="443.82" x2="515.40" y2="443.82" stroke="#b0b0b0" stroke-width="1.45"/>
<line x1="87.10" y1="479.99" x2="515.40" y2="479.99" stroke="#b0b0b0" stroke-width="1.45"/>
<line x1="87.10" y1="516.16" x2="515.40" y2="516.16" stroke="#b0b0b0" stroke-width="1.45"/>
<line x1="87.10" y1="552.33" x2="515.40" y2="552.33" stroke="#b0b0b0" stroke-width="1.45"/>
<path d="M106.54 438.11 L107.52 438.89 L108.49 439.60 L109.47 440.25 L110.44 440.82 L111.42 441.31 L112.40 441.72 L113.37 442.07 L114.35 442.37 L115.32 442.62 L116.30 442.84 L117.27 443.04 L118.25 443.24 L119.23 443.43 L120.20 443.63 L121.18 443.83 L122.15 444.04 L123.13 444.24 L124.10 444.43 L125.08 444.62 L126.06 444.80 L127.03 444.96 L128.01 445.13 L128.98 445.30 L129.96 445.49 L130.94 445.71 L131.91 445.98 L132.89 446.31 L133.86 446.72 L134.84 447.22 L135.81 447.82 L136.79 448.54 L137.77 449.38 L138.74 450.36 L139.72 451.49 L140.69 452.79 L141.67 454.28 L142.65 455.98 L143.62 457.92 L144.60 460.15 L145.57 462.70 L146.55 465.60 L147.52 468.89 L148.50 472.59 L149.48 476.73 L150.45 481.31 L151.43 486.30 L152.40 491.68 L153.38 497.39 L154.36 503.37 L155.33 509.52 L156.31 515.75 L157.28 521.94 L158.26 527.98 L159.23 533.76 L160.21 539.17 L161.19 544.11 L162.16 548.49 L163.14 552.25 L164.11 555.36 L165.09 557.78 L166.06 559.51 L167.04 560.57 L168.02 561.00 L168.99 560.85 L169.97 560.17 L170.94 559.05 L171.92 557.54 L172.90 555.74 L173.87 553.70 L174.85 551.49 L175.82 549.17 L176.80 546.78 L177.77 544.36 L178.75 541.94 L179.73 539.52 L180.70 537.12 L181.68 534.74 L182.65 532.36 L183.63 529.98 L184.61 527.58 L185.58 525.16 L186.56 522.70 L187.53 520.21 L188.51 517.67 L189.48 515.09 L190.46 512.48 L191.44 509.85 L192.41 507.21 L193.39 504.56 L194.36 501.92 L195.34 499.30 L196.32 496.67 L197.29 494.05 L198.27 491.42 L199.24 488.76 L200.22 486.05 L201.19 483.27 L202.17 480.39 L203.15 477.40 L204.12 474.29 L205.10 471.06 L206.07 467.71 L207.05 464.28 L208.03 460.78 L209.00 457.26 L209.98 453.77 L210.95 450.37 L211.93 447.10 L212.90 444.03 L213.88 441.19 L214.86 438.64 L215.83 436.39 L216.81 434.46 L217.78 432.87 L218.76 431.60 L219.73 430.65 L220.71 429.98 L221.69 429.57 L222.66 429.39 L223.64 429.41 L224.61 429.59 L225.59 429.92 L226.57 430.37 L227.54 430.92 L228.52 431.56 L229.49 432.27 L230.47 433.03 L231.44 433.85 L232.42 434.69 L233.40 435.56 L234.37 436.43 L235.35 437.29 L236.32 438.11 L237.30 438.89 L238.28 439.60 L239.25 440.25 L240.23 440.82 L241.20 441.31 L242.18 441.72 L243.15 442.07 L244.13 442.37 L245.11 442.62 L246.08 442.84 L247.06 443.04 L248.03 443.24 L249.01 443.43 L249.99 443.63 L250.96 443.83 L251.94 444.04 L252.91 444.24 L253.89 444.43 L254.86 444.62 L255.84 444.80 L256.82 444.96 L257.79 445.13 L258.77 445.30 L259.74 445.49 L260.72 445.71 L261.69 445.98 L262.67 446.31 L263.65 446.72 L264.62 447.22 L265.60 447.82 L266.57 448.54 L267.55 449.38 L268.53 450.36 L269.50 451.49 L270.48 452.79 L271.45 454.28 L272.43 455.98 L273.40 457.92 L274.38 460.15 L275.36 462.70 L276.33 465.60 L277.31 468.89 L278.28 472.59 L279.26 476.73 L280.24 481.31 L281.21 486.30 L282.19 491.68 L283.16 497.39 L284.14 503.37 L285.11 509.52 L286.09 515.75 L287.07 521.94 L288.04 527.98 L289.02 533.76 L289.99 539.17 L290.97 544.11 L291.95 548.49 L292.92 552.25 L293.90 555.36 L294.87 557.78 L295.85 559.51 L296.82 560.57 L297.80 561.00 L298.78 560.85 L299.75 560.17 L300.73 559.05 L301.70 557.54 L302.68 555.74 L303.65 553.70 L304.63 551.49 L305.61 549.17 L306.58 546.78 L307.56 544.36 L308.53 541.94 L309.51 539.52 L310.49 537.12 L311.46 534.74 L312.44 532.36 L313.41 529.98 L314.39 527.58 L315.36 525.16 L316.34 522.70 L317.32 520.21 L318.29 517.67 L319.27 515.09 L320.24 512.48 L321.22 509.85 L322.20 507.21 L323.17 504.56 L324.15 501.92 L325.12 499.30 L326.10 496.67 L327.07 494.05 L328.05 491.42 L329.03 488.76 L330.00 486.05 L330.98 483.27 L331.95 480.39 L332.93 477.40 L333.91 474.29 L334.88 471.06 L335.86 467.71 L336.83 464.28 L337.81 460.78 L338.78 457.26 L339.76 453.77 L340.74 450.37 L341.71 447.10 L342.69 444.03 L343.66 441.19 L344.64 438.64 L345.62 436.39 L346.59 434.46 L347.57 432.87 L348.54 431.60 L349.52 430.65 L350.49 429.98 L351.47 429.57 L352.45 429.39 L353.42 429.41 L354.40 429.59 L355.37 429.92 L356.35 430.37 L357.32 430.92 L358.30 431.56 L359.28 432.27 L360.25 433.03 L361.23 433.85 L362.20 434.69 L363.18 435.56 L364.16 436.43 L365.13 437.29 L366.11 438.11 L367.08 438.89 L368.06 439.60 L369.03 440.25 L370.01 440.82 L370.99 441.31 L371.96 441.72 L372.94 442.07 L373.91 442.37 L374.89 442.62 L375.87 442.84 L376.84 443.04 L377.82 443.24 L378.79 443.43 L379.77 443.63 L380.74 443.83 L381.72 444.04 L382.70 444.24 L383.67 444.43 L384.65 444.62 L385.62 444.80 L386.60 444.96 L387.58 445.13 L388.55 445.30 L389.53 445.49 L390.50 445.71 L391.48 445.98 L392.45 446.31 L393.43 446.72 L394.41 447.22 L395.38 447.82 L396.36 448.54 L397.33 449.38 L398.31 450.36 L399.28 451.49 L400.26 452.79 L401.24 454.28 L402.21 455.98 L403.19 457.92 L404.16 460.15 L405.14 462.70 L406.12 465.60 L407.09 468.89 L408.07 472.59 L409.04 476.73 L410.02 481.31 L410.99 486.30 L411.97 491.68 L412.95 497.39 L413.92 503.37 L414.90 509.52 L415.87 515.75 L416.85 521.94 L417.83 527.98 L418.80 533.76 L419.78 539.17 L420.75 544.11 L421.73 548.49 L422.70 552.25 L423.68 555.36 L424.66 557.78 L425.63 559.51 L426.61 560.57 L427.58 561.00 L428.56 560.85 L429.54 560.17 L430.51 559.05 L431.49 557.54 L432.46 555.74 L433.44 553.70 L434.41 551.49 L435.39 549.17 L436.37 546.78 L437.34 544.36 L438.32 541.94 L439.29 539.52 L440.27 537.12 L441.24 534.74 L442.22 532.36 L443.20 529.98 L444.17 527.58 L445.15 525.16 L446.12 522.70 L447.10 520.21 L448.08 517.67 L449.05 515.09 L450.03 512.48 L451.00 509.85 L451.98 507.21 L452.95 504.56 L453.93 501.92 L454.91 499.30 L455.88 496.67 L456.86 494.05 L457.83 491.42 L458.81 488.76 L459.79 486.05 L460.76 483.27 L461.74 480.39 L462.71 477.40 L463.69 474.29 L464.66 471.06 L465.64 467.71 L466.62 464.28 L467.59 460.78 L468.57 457.26 L469.54 453.77 L470.52 450.37 L471.50 447.10 L472.47 444.03 L473.45 441.19 L474.42 438.64 L475.40 436.39 L476.37 434.46 L477.35 432.87 L478.33 431.60 L479.30 430.65 L480.28 429.98 L481.25 429.57 L482.23 429.39 L483.21 429.41 L484.18 429.59 L485.16 429.92 L486.13 430.37 L487.11 430.92 L488.08 431.56 L489.06 432.27 L490.04 433.03 L491.01 433.85 L491.99 434.69 L492.96 435.56 L493.94 436.43 L494.91 437.29 L495.89 438.11" fill="none" stroke="#008000" stroke-width="2.55" stroke-linejoin="round" stroke-linecap="square" clip-path="url(#c2)"/>
<line x1="78.90" y1="407.65" x2="87.10" y2="407.65" stroke="#000" stroke-width="1.75"/>
<text transform="translate(74.15 413.75) rotate(0.05) scale(0.960 1)" font-size="15.28" text-anchor="end">50</text>
<line x1="78.90" y1="443.82" x2="87.10" y2="443.82" stroke="#000" stroke-width="1.75"/>
<text transform="translate(74.15 449.92) rotate(0.05) scale(0.960 1)" font-size="15.28" text-anchor="end">0</text>
<line x1="78.90" y1="479.99" x2="87.10" y2="479.99" stroke="#000" stroke-width="1.75"/>
<text transform="translate(74.15 486.09) rotate(0.05) scale(0.960 1)" font-size="15.28" text-anchor="end">−50</text>
<line x1="78.90" y1="516.16" x2="87.10" y2="516.16" stroke="#000" stroke-width="1.75"/>
<text transform="translate(74.15 522.26) rotate(0.05) scale(0.960 1)" font-size="15.28" text-anchor="end">−100</text>
<line x1="78.90" y1="552.33" x2="87.10" y2="552.33" stroke="#000" stroke-width="1.75"/>
<text transform="translate(74.15 558.43) rotate(0.05) scale(0.960 1)" font-size="15.28" text-anchor="end">−150</text>
<line x1="156.80" y1="566.50" x2="156.80" y2="574.30" stroke="#000" stroke-width="1.75"/>
<line x1="229.33" y1="566.50" x2="229.33" y2="574.30" stroke="#000" stroke-width="1.75"/>
<line x1="301.85" y1="566.50" x2="301.85" y2="574.30" stroke="#000" stroke-width="1.75"/>
<line x1="374.38" y1="566.50" x2="374.38" y2="574.30" stroke="#000" stroke-width="1.75"/>
<line x1="446.90" y1="566.50" x2="446.90" y2="574.30" stroke="#000" stroke-width="1.75"/>
<g transform="translate(23.00 527.29) rotate(-90)"><text font-size="18.40">
<tspan x="0.00" y="-0.26" font-style="oblique">J</tspan><tspan x="5.43" y="2.76" font-style="oblique" font-size="12.88">i</tspan><tspan x="15.36" y="-0.26">[A-m</tspan><tspan x="59.48" y="-7.97" font-size="12.88">−2</tspan><tspan x="78.97" y="-0.26">]</tspan>
</text></g>
<path d="M106.54 431.20 L107.52 431.27 L108.49 431.48 L109.47 431.82 L110.44 432.30 L111.42 432.91 L112.40 433.66 L113.37 434.54 L114.35 435.55 L115.32 436.69 L116.30 437.96 L117.27 439.35 L118.25 440.85 L119.23 442.47 L120.20 444.21 L121.18 446.05 L122.15 448.00 L123.13 450.05 L124.10 452.20 L125.08 454.43 L126.06 456.75 L127.03 459.15 L128.01 461.63 L128.98 464.18 L129.96 466.79 L130.94 469.46 L131.91 472.18 L132.89 474.95 L133.86 477.75 L134.84 480.60 L135.81 483.46 L136.79 486.35 L137.77 489.26 L138.74 492.17 L139.72 495.09 L140.69 498.00 L141.67 500.89 L142.65 503.77 L143.62 506.63 L144.60 509.45 L145.57 512.24 L146.55 514.99 L147.52 517.68 L148.50 520.33 L149.48 522.90 L150.45 525.42 L151.43 527.86 L152.40 530.22 L153.38 532.50 L154.36 534.69 L155.33 536.79 L156.31 538.78 L157.28 540.68 L158.26 542.47 L159.23 544.15 L160.21 545.72 L161.19 547.16 L162.16 548.49 L163.14 549.69 L164.11 550.77 L165.09 551.71 L166.06 552.53 L167.04 553.21 L168.02 553.76 L168.99 554.17 L169.97 554.45 L170.94 554.58 L171.92 554.58 L172.90 554.45 L173.87 554.17 L174.85 553.76 L175.82 553.21 L176.80 552.53 L177.77 551.71 L178.75 550.77 L179.73 549.69 L180.70 548.49 L181.68 547.16 L182.65 545.72 L183.63 544.15 L184.61 542.47 L185.58 540.68 L186.56 538.78 L187.53 536.79 L188.51 534.69 L189.48 532.50 L190.46 530.22 L191.44 527.86 L192.41 525.42 L193.39 522.90 L194.36 520.33 L195.34 517.68 L196.32 514.99 L197.29 512.24 L198.27 509.45 L199.24 506.63 L200.22 503.77 L201.19 500.89 L202.17 498.00 L203.15 495.09 L204.12 492.17 L205.10 489.26 L206.07 486.35 L207.05 483.46 L208.03 480.60 L209.00 477.75 L209.98 474.95 L210.95 472.18 L211.93 469.46 L212.90 466.79 L213.88 464.18 L214.86 461.63 L215.83 459.15 L216.81 456.75 L217.78 454.43 L218.76 452.20 L219.73 450.05 L220.71 448.00 L221.69 446.05 L222.66 444.21 L223.64 442.47 L224.61 440.85 L225.59 439.35 L226.57 437.96 L227.54 436.69 L228.52 435.55 L229.49 434.54 L230.47 433.66 L231.44 432.91 L232.42 432.30 L233.40 431.82 L234.37 431.48 L235.35 431.27 L236.32 431.20 L237.30 431.27 L238.28 431.48 L239.25 431.82 L240.23 432.30 L241.20 432.91 L242.18 433.66 L243.15 434.54 L244.13 435.55 L245.11 436.69 L246.08 437.96 L247.06 439.35 L248.03 440.85 L249.01 442.47 L249.99 444.21 L250.96 446.05 L251.94 448.00 L252.91 450.05 L253.89 452.20 L254.86 454.43 L255.84 456.75 L256.82 459.15 L257.79 461.63 L258.77 464.18 L259.74 466.79 L260.72 469.46 L261.69 472.18 L262.67 474.95 L263.65 477.75 L264.62 480.60 L265.60 483.46 L266.57 486.35 L267.55 489.26 L268.53 492.17 L269.50 495.09 L270.48 498.00 L271.45 500.89 L272.43 503.77 L273.40 506.63 L274.38 509.45 L275.36 512.24 L276.33 514.99 L277.31 517.68 L278.28 520.33 L279.26 522.90 L280.24 525.42 L281.21 527.86 L282.19 530.22 L283.16 532.50 L284.14 534.69 L285.11 536.79 L286.09 538.78 L287.07 540.68 L288.04 542.47 L289.02 544.15 L289.99 545.72 L290.97 547.16 L291.95 548.49 L292.92 549.69 L293.90 550.77 L294.87 551.71 L295.85 552.53 L296.82 553.21 L297.80 553.76 L298.78 554.17 L299.75 554.45 L300.73 554.58 L301.70 554.58 L302.68 554.45 L303.65 554.17 L304.63 553.76 L305.61 553.21 L306.58 552.53 L307.56 551.71 L308.53 550.77 L309.51 549.69 L310.49 548.49 L311.46 547.16 L312.44 545.72 L313.41 544.15 L314.39 542.47 L315.36 540.68 L316.34 538.78 L317.32 536.79 L318.29 534.69 L319.27 532.50 L320.24 530.22 L321.22 527.86 L322.20 525.42 L323.17 522.90 L324.15 520.33 L325.12 517.68 L326.10 514.99 L327.07 512.24 L328.05 509.45 L329.03 506.63 L330.00 503.77 L330.98 500.89 L331.95 498.00 L332.93 495.09 L333.91 492.17 L334.88 489.26 L335.86 486.35 L336.83 483.46 L337.81 480.60 L338.78 477.75 L339.76 474.95 L340.74 472.18 L341.71 469.46 L342.69 466.79 L343.66 464.18 L344.64 461.63 L345.62 459.15 L346.59 456.75 L347.57 454.43 L348.54 452.20 L349.52 450.05 L350.49 448.00 L351.47 446.05 L352.45 444.21 L353.42 442.47 L354.40 440.85 L355.37 439.35 L356.35 437.96 L357.32 436.69 L358.30 435.55 L359.28 434.54 L360.25 433.66 L361.23 432.91 L362.20 432.30 L363.18 431.82 L364.16 431.48 L365.13 431.27 L366.11 431.20 L367.08 431.27 L368.06 431.48 L369.03 431.82 L370.01 432.30 L370.99 432.91 L371.96 433.66 L372.94 434.54 L373.91 435.55 L374.89 436.69 L375.87 437.96 L376.84 439.35 L377.82 440.85 L378.79 442.47 L379.77 444.21 L380.74 446.05 L381.72 448.00 L382.70 450.05 L383.67 452.20 L384.65 454.43 L385.62 456.75 L386.60 459.15 L387.58 461.63 L388.55 464.18 L389.53 466.79 L390.50 469.46 L391.48 472.18 L392.45 474.95 L393.43 477.75 L394.41 480.60 L395.38 483.46 L396.36 486.35 L397.33 489.26 L398.31 492.17 L399.28 495.09 L400.26 498.00 L401.24 500.89 L402.21 503.77 L403.19 506.63 L404.16 509.45 L405.14 512.24 L406.12 514.99 L407.09 517.68 L408.07 520.33 L409.04 522.90 L410.02 525.42 L410.99 527.86 L411.97 530.22 L412.95 532.50 L413.92 534.69 L414.90 536.79 L415.87 538.78 L416.85 540.68 L417.83 542.47 L418.80 544.15 L419.78 545.72 L420.75 547.16 L421.73 548.49 L422.70 549.69 L423.68 550.77 L424.66 551.71 L425.63 552.53 L426.61 553.21 L427.58 553.76 L428.56 554.17 L429.54 554.45 L430.51 554.58 L431.49 554.58 L432.46 554.45 L433.44 554.17 L434.41 553.76 L435.39 553.21 L436.37 552.53 L437.34 551.71 L438.32 550.77 L439.29 549.69 L440.27 548.49 L441.24 547.16 L442.22 545.72 L443.20 544.15 L444.17 542.47 L445.15 540.68 L446.12 538.78 L447.10 536.79 L448.08 534.69 L449.05 532.50 L450.03 530.22 L451.00 527.86 L451.98 525.42 L452.95 522.90 L453.93 520.33 L454.91 517.68 L455.88 514.99 L456.86 512.24 L457.83 509.45 L458.81 506.63 L459.79 503.77 L460.76 500.89 L461.74 498.00 L462.71 495.09 L463.69 492.17 L464.66 489.26 L465.64 486.35 L466.62 483.46 L467.59 480.60 L468.57 477.75 L469.54 474.95 L470.52 472.18 L471.50 469.46 L472.47 466.79 L473.45 464.18 L474.42 461.63 L475.40 459.15 L476.37 456.75 L477.35 454.43 L478.33 452.20 L479.30 450.05 L480.28 448.00 L481.25 446.05 L482.23 444.21 L483.21 442.47 L484.18 440.85 L485.16 439.35 L486.13 437.96 L487.11 436.69 L488.08 435.55 L489.06 434.54 L490.04 433.66 L491.01 432.91 L491.99 432.30 L492.96 431.82 L493.94 431.48 L494.91 431.27 L495.89 431.20" fill="none" stroke="#ff6347" stroke-width="2.2" stroke-dasharray="11.815 2.946 1.842 2.946" clip-path="url(#c2)"/>
<line x1="515.40" y1="431.20" x2="520.90" y2="431.20" stroke="#000" stroke-width="1.40"/>
<text transform="translate(525.70 437.30) rotate(0.05) scale(0.960 1)" font-size="15.28" text-anchor="start">100</text>
<line x1="515.40" y1="492.90" x2="520.90" y2="492.90" stroke="#000" stroke-width="1.40"/>
<text transform="translate(525.70 499.00) rotate(0.05) scale(0.960 1)" font-size="15.28" text-anchor="start">0</text>
<line x1="515.40" y1="554.60" x2="520.90" y2="554.60" stroke="#000" stroke-width="1.40"/>
<text transform="translate(525.70 560.70) rotate(0.05) scale(0.960 1)" font-size="15.28" text-anchor="start">−100</text>
<g transform="translate(585.40 507.11) rotate(-90)"><text font-size="18.40">Φ [V]</text></g>
<rect x="87.10" y="400.50" width="428.30" height="166.00" fill="none" stroke="#000" stroke-width="1.55"/>
<rect x="86.90" y="400.50" width="125.20" height="29.80" fill="#f5deb3" stroke="#000" stroke-width="1.4"/>
<text transform="translate(93.30 420.50) rotate(0.05)" font-size="18.50"><tspan x="0.00" y="0.00" font-style="oblique">ω</tspan><tspan x="15.49" y="0.00">/</tspan><tspan x="21.72" y="0.00" font-style="oblique">ω</tspan><tspan x="37.22" y="3.04" font-style="oblique" font-size="12.95">r</tspan><tspan x="48.93" y="0.00">= 1.00</tspan></text>
</g>
<g>
<clipPath id="c3"><rect x="87.10" y="600.35" width="428.30" height="166.00"/></clipPath>
<line x1="156.80" y1="600.35" x2="156.80" y2="766.35" stroke="#b0b0b0" stroke-width="1.45"/>
<line x1="229.33" y1="600.35" x2="229.33" y2="766.35" stroke="#b0b0b0" stroke-width="1.45"/>
<line x1="301.85" y1="600.35" x2="301.85" y2="766.35" stroke="#b0b0b0" stroke-width="1.45"/>
<line x1="374.38" y1="600.35" x2="374.38" y2="766.35" stroke="#b0b0b0" stroke-width="1.45"/>
<line x1="446.90" y1="600.35" x2="446.90" y2="766.35" stroke="#b0b0b0" stroke-width="1.45"/>
<line x1="87.10" y1="607.50" x2="515.40" y2="607.50" stroke="#b0b0b0" stroke-width="1.45"/>
<line x1="87.10" y1="643.67" x2="515.40" y2="643.67" stroke="#b0b0b0" stroke-width="1.45"/>
<line x1="87.10" y1="679.84" x2="515.40" y2="679.84" stroke="#b0b0b0" stroke-width="1.45"/>
<line x1="87.10" y1="716.01" x2="515.40" y2="716.01" stroke="#b0b0b0" stroke-width="1.45"/>
<line x1="87.10" y1="752.18" x2="515.40" y2="752.18" stroke="#b0b0b0" stroke-width="1.45"/>
<path d="M106.54 672.82 L107.52 671.74 L108.49 670.71 L109.47 669.70 L110.44 668.74 L111.42 667.82 L112.40 666.95 L113.37 666.12 L114.35 665.33 L115.32 664.60 L116.30 663.91 L117.27 663.27 L118.25 662.68 L119.23 662.14 L120.20 661.64 L121.18 661.19 L122.15 660.79 L123.13 660.44 L124.10 660.12 L125.08 659.85 L126.06 659.63 L127.03 659.44 L128.01 659.30 L128.98 659.20 L129.96 659.13 L130.94 659.10 L131.91 659.11 L132.89 659.15 L133.86 659.23 L134.84 659.35 L135.81 659.50 L136.79 659.68 L137.77 659.90 L138.74 660.15 L139.72 660.44 L140.69 660.76 L141.67 661.12 L142.65 661.51 L143.62 661.94 L144.60 662.40 L145.57 662.90 L146.55 663.43 L147.52 664.00 L148.50 664.60 L149.48 665.23 L150.45 665.90 L151.43 666.60 L152.40 667.33 L153.38 668.09 L154.36 668.88 L155.33 669.70 L156.31 670.54 L157.28 671.41 L158.26 672.29 L159.23 673.20 L160.21 674.13 L161.19 675.07 L162.16 676.02 L163.14 676.98 L164.11 677.95 L165.09 678.93 L166.06 679.90 L167.04 680.88 L168.02 681.85 L168.99 682.82 L169.97 683.78 L170.94 684.73 L171.92 685.67 L172.90 686.59 L173.87 687.50 L174.85 688.39 L175.82 689.26 L176.80 690.11 L177.77 690.94 L178.75 691.74 L179.73 692.53 L180.70 693.28 L181.68 694.01 L182.65 694.72 L183.63 695.39 L184.61 696.04 L185.58 696.66 L186.56 697.25 L187.53 697.81 L188.51 698.34 L189.48 698.84 L190.46 699.31 L191.44 699.74 L192.41 700.14 L193.39 700.50 L194.36 700.83 L195.34 701.12 L196.32 701.38 L197.29 701.59 L198.27 701.76 L199.24 701.88 L200.22 701.96 L201.19 702.00 L202.17 701.98 L203.15 701.92 L204.12 701.80 L205.10 701.64 L206.07 701.41 L207.05 701.14 L208.03 700.80 L209.00 700.41 L209.98 699.96 L210.95 699.45 L211.93 698.89 L212.90 698.27 L213.88 697.59 L214.86 696.86 L215.83 696.07 L216.81 695.23 L217.78 694.34 L218.76 693.40 L219.73 692.42 L220.71 691.40 L221.69 690.34 L222.66 689.24 L223.64 688.12 L224.61 686.97 L225.59 685.80 L226.57 684.61 L227.54 683.41 L228.52 682.20 L229.49 680.99 L230.47 679.78 L231.44 678.57 L232.42 677.38 L233.40 676.21 L234.37 675.05 L235.35 673.92 L236.32 672.82 L237.30 671.74 L238.28 670.71 L239.25 669.70 L240.23 668.74 L241.20 667.82 L242.18 666.95 L243.15 666.12 L244.13 665.33 L245.11 664.60 L246.08 663.91 L247.06 663.27 L248.03 662.68 L249.01 662.14 L249.99 661.64 L250.96 661.19 L251.94 660.79 L252.91 660.44 L253.89 660.12 L254.86 659.85 L255.84 659.63 L256.82 659.44 L257.79 659.30 L258.77 659.20 L259.74 659.13 L260.72 659.10 L261.69 659.11 L262.67 659.15 L263.65 659.23 L264.62 659.35 L265.60 659.50 L266.57 659.68 L267.55 659.90 L268.53 660.15 L269.50 660.44 L270.48 660.76 L271.45 661.12 L272.43 661.51 L273.40 661.94 L274.38 662.40 L275.36 662.90 L276.33 663.43 L277.31 664.00 L278.28 664.60 L279.26 665.23 L280.24 665.90 L281.21 666.60 L282.19 667.33 L283.16 668.09 L284.14 668.88 L285.11 669.70 L286.09 670.54 L287.07 671.41 L288.04 672.29 L289.02 673.20 L289.99 674.13 L290.97 675.07 L291.95 676.02 L292.92 676.98 L293.90 677.95 L294.87 678.93 L295.85 679.90 L296.82 680.88 L297.80 681.85 L298.78 682.82 L299.75 683.78 L300.73 684.73 L301.70 685.67 L302.68 686.59 L303.65 687.50 L304.63 688.39 L305.61 689.26 L306.58 690.11 L307.56 690.94 L308.53 691.74 L309.51 692.53 L310.49 693.28 L311.46 694.01 L312.44 694.72 L313.41 695.39 L314.39 696.04 L315.36 696.66 L316.34 697.25 L317.32 697.81 L318.29 698.34 L319.27 698.84 L320.24 699.31 L321.22 699.74 L322.20 700.14 L323.17 700.50 L324.15 700.83 L325.12 701.12 L326.10 701.38 L327.07 701.59 L328.05 701.76 L329.03 701.88 L330.00 701.96 L330.98 702.00 L331.95 701.98 L332.93 701.92 L333.91 701.80 L334.88 701.64 L335.86 701.41 L336.83 701.14 L337.81 700.80 L338.78 700.41 L339.76 699.96 L340.74 699.45 L341.71 698.89 L342.69 698.27 L343.66 697.59 L344.64 696.86 L345.62 696.07 L346.59 695.23 L347.57 694.34 L348.54 693.40 L349.52 692.42 L350.49 691.40 L351.47 690.34 L352.45 689.24 L353.42 688.12 L354.40 686.97 L355.37 685.80 L356.35 684.61 L357.32 683.41 L358.30 682.20 L359.28 680.99 L360.25 679.78 L361.23 678.57 L362.20 677.38 L363.18 676.21 L364.16 675.05 L365.13 673.92 L366.11 672.82 L367.08 671.74 L368.06 670.71 L369.03 669.70 L370.01 668.74 L370.99 667.82 L371.96 666.95 L372.94 666.12 L373.91 665.33 L374.89 664.60 L375.87 663.91 L376.84 663.27 L377.82 662.68 L378.79 662.14 L379.77 661.64 L380.74 661.19 L381.72 660.79 L382.70 660.44 L383.67 660.12 L384.65 659.85 L385.62 659.63 L386.60 659.44 L387.58 659.30 L388.55 659.20 L389.53 659.13 L390.50 659.10 L391.48 659.11 L392.45 659.15 L393.43 659.23 L394.41 659.35 L395.38 659.50 L396.36 659.68 L397.33 659.90 L398.31 660.15 L399.28 660.44 L400.26 660.76 L401.24 661.12 L402.21 661.51 L403.19 661.94 L404.16 662.40 L405.14 662.90 L406.12 663.43 L407.09 664.00 L408.07 664.60 L409.04 665.23 L410.02 665.90 L410.99 666.60 L411.97 667.33 L412.95 668.09 L413.92 668.88 L414.90 669.70 L415.87 670.54 L416.85 671.41 L417.83 672.29 L418.80 673.20 L419.78 674.13 L420.75 675.07 L421.73 676.02 L422.70 676.98 L423.68 677.95 L424.66 678.93 L425.63 679.90 L426.61 680.88 L427.58 681.85 L428.56 682.82 L429.54 683.78 L430.51 684.73 L431.49 685.67 L432.46 686.59 L433.44 687.50 L434.41 688.39 L435.39 689.26 L436.37 690.11 L437.34 690.94 L438.32 691.74 L439.29 692.53 L440.27 693.28 L441.24 694.01 L442.22 694.72 L443.20 695.39 L444.17 696.04 L445.15 696.66 L446.12 697.25 L447.10 697.81 L448.08 698.34 L449.05 698.84 L450.03 699.31 L451.00 699.74 L451.98 700.14 L452.95 700.50 L453.93 700.83 L454.91 701.12 L455.88 701.38 L456.86 701.59 L457.83 701.76 L458.81 701.88 L459.79 701.96 L460.76 702.00 L461.74 701.98 L462.71 701.92 L463.69 701.80 L464.66 701.64 L465.64 701.41 L466.62 701.14 L467.59 700.80 L468.57 700.41 L469.54 699.96 L470.52 699.45 L471.50 698.89 L472.47 698.27 L473.45 697.59 L474.42 696.86 L475.40 696.07 L476.37 695.23 L477.35 694.34 L478.33 693.40 L479.30 692.42 L480.28 691.40 L481.25 690.34 L482.23 689.24 L483.21 688.12 L484.18 686.97 L485.16 685.80 L486.13 684.61 L487.11 683.41 L488.08 682.20 L489.06 680.99 L490.04 679.78 L491.01 678.57 L491.99 677.38 L492.96 676.21 L493.94 675.05 L494.91 673.92 L495.89 672.82" fill="none" stroke="#008000" stroke-width="2.55" stroke-linejoin="round" stroke-linecap="square" clip-path="url(#c3)"/>
<line x1="78.90" y1="607.50" x2="87.10" y2="607.50" stroke="#000" stroke-width="1.75"/>
<text transform="translate(74.15 613.60) rotate(0.05) scale(0.960 1)" font-size="15.28" text-anchor="end">50</text>
<line x1="78.90" y1="643.67" x2="87.10" y2="643.67" stroke="#000" stroke-width="1.75"/>
<text transform="translate(74.15 649.77) rotate(0.05) scale(0.960 1)" font-size="15.28" text-anchor="end">0</text>
<line x1="78.90" y1="679.84" x2="87.10" y2="679.84" stroke="#000" stroke-width="1.75"/>
<text transform="translate(74.15 685.94) rotate(0.05) scale(0.960 1)" font-size="15.28" text-anchor="end">−50</text>
<line x1="78.90" y1="716.01" x2="87.10" y2="716.01" stroke="#000" stroke-width="1.75"/>
<text transform="translate(74.15 722.11) rotate(0.05) scale(0.960 1)" font-size="15.28" text-anchor="end">−100</text>
<line x1="78.90" y1="752.18" x2="87.10" y2="752.18" stroke="#000" stroke-width="1.75"/>
<text transform="translate(74.15 758.28) rotate(0.05) scale(0.960 1)" font-size="15.28" text-anchor="end">−150</text>
<line x1="156.80" y1="766.35" x2="156.80" y2="774.15" stroke="#000" stroke-width="1.75"/>
<text transform="translate(157.10 791.15) rotate(0.05) scale(0.960 1)" font-size="15.28" text-anchor="middle">940</text>
<line x1="229.33" y1="766.35" x2="229.33" y2="774.15" stroke="#000" stroke-width="1.75"/>
<text transform="translate(229.63 791.15) rotate(0.05) scale(0.960 1)" font-size="15.28" text-anchor="middle">950</text>
<line x1="301.85" y1="766.35" x2="301.85" y2="774.15" stroke="#000" stroke-width="1.75"/>
<text transform="translate(302.15 791.15) rotate(0.05) scale(0.960 1)" font-size="15.28" text-anchor="middle">960</text>
<line x1="374.38" y1="766.35" x2="374.38" y2="774.15" stroke="#000" stroke-width="1.75"/>
<text transform="translate(374.68 791.15) rotate(0.05) scale(0.960 1)" font-size="15.28" text-anchor="middle">970</text>
<line x1="446.90" y1="766.35" x2="446.90" y2="774.15" stroke="#000" stroke-width="1.75"/>
<text transform="translate(447.20 791.15) rotate(0.05) scale(0.960 1)" font-size="15.28" text-anchor="middle">980</text>
<g transform="translate(23.00 727.14) rotate(-90)"><text font-size="18.40">
<tspan x="0.00" y="-0.26" font-style="oblique">J</tspan><tspan x="5.43" y="2.76" font-style="oblique" font-size="12.88">i</tspan><tspan x="15.36" y="-0.26">[A-m</tspan><tspan x="59.48" y="-7.97" font-size="12.88">−2</tspan><tspan x="78.97" y="-0.26">]</tspan>
</text></g>
<path d="M106.54 631.05 L107.52 631.12 L108.49 631.33 L109.47 631.67 L110.44 632.15 L111.42 632.76 L112.40 633.51 L113.37 634.39 L114.35 635.40 L115.32 636.54 L116.30 637.81 L117.27 639.20 L118.25 640.70 L119.23 642.32 L120.20 644.06 L121.18 645.90 L122.15 647.85 L123.13 649.90 L124.10 652.05 L125.08 654.28 L126.06 656.60 L127.03 659.00 L128.01 661.48 L128.98 664.03 L129.96 666.64 L130.94 669.31 L131.91 672.03 L132.89 674.80 L133.86 677.60 L134.84 680.45 L135.81 683.31 L136.79 686.20 L137.77 689.11 L138.74 692.02 L139.72 694.94 L140.69 697.85 L141.67 700.74 L142.65 703.62 L143.62 706.48 L144.60 709.30 L145.57 712.09 L146.55 714.84 L147.52 717.53 L148.50 720.18 L149.48 722.75 L150.45 725.27 L151.43 727.71 L152.40 730.07 L153.38 732.35 L154.36 734.54 L155.33 736.64 L156.31 738.63 L157.28 740.53 L158.26 742.32 L159.23 744.00 L160.21 745.57 L161.19 747.01 L162.16 748.34 L163.14 749.54 L164.11 750.62 L165.09 751.56 L166.06 752.38 L167.04 753.06 L168.02 753.61 L168.99 754.02 L169.97 754.30 L170.94 754.43 L171.92 754.43 L172.90 754.30 L173.87 754.02 L174.85 753.61 L175.82 753.06 L176.80 752.38 L177.77 751.56 L178.75 750.62 L179.73 749.54 L180.70 748.34 L181.68 747.01 L182.65 745.57 L183.63 744.00 L184.61 742.32 L185.58 740.53 L186.56 738.63 L187.53 736.64 L188.51 734.54 L189.48 732.35 L190.46 730.07 L191.44 727.71 L192.41 725.27 L193.39 722.75 L194.36 720.18 L195.34 717.53 L196.32 714.84 L197.29 712.09 L198.27 709.30 L199.24 706.48 L200.22 703.62 L201.19 700.74 L202.17 697.85 L203.15 694.94 L204.12 692.02 L205.10 689.11 L206.07 686.20 L207.05 683.31 L208.03 680.45 L209.00 677.60 L209.98 674.80 L210.95 672.03 L211.93 669.31 L212.90 666.64 L213.88 664.03 L214.86 661.48 L215.83 659.00 L216.81 656.60 L217.78 654.28 L218.76 652.05 L219.73 649.90 L220.71 647.85 L221.69 645.90 L222.66 644.06 L223.64 642.32 L224.61 640.70 L225.59 639.20 L226.57 637.81 L227.54 636.54 L228.52 635.40 L229.49 634.39 L230.47 633.51 L231.44 632.76 L232.42 632.15 L233.40 631.67 L234.37 631.33 L235.35 631.12 L236.32 631.05 L237.30 631.12 L238.28 631.33 L239.25 631.67 L240.23 632.15 L241.20 632.76 L242.18 633.51 L243.15 634.39 L244.13 635.40 L245.11 636.54 L246.08 637.81 L247.06 639.20 L248.03 640.70 L249.01 642.32 L249.99 644.06 L250.96 645.90 L251.94 647.85 L252.91 649.90 L253.89 652.05 L254.86 654.28 L255.84 656.60 L256.82 659.00 L257.79 661.48 L258.77 664.03 L259.74 666.64 L260.72 669.31 L261.69 672.03 L262.67 674.80 L263.65 677.60 L264.62 680.45 L265.60 683.31 L266.57 686.20 L267.55 689.11 L268.53 692.02 L269.50 694.94 L270.48 697.85 L271.45 700.74 L272.43 703.62 L273.40 706.48 L274.38 709.30 L275.36 712.09 L276.33 714.84 L277.31 717.53 L278.28 720.18 L279.26 722.75 L280.24 725.27 L281.21 727.71 L282.19 730.07 L283.16 732.35 L284.14 734.54 L285.11 736.64 L286.09 738.63 L287.07 740.53 L288.04 742.32 L289.02 744.00 L289.99 745.57 L290.97 747.01 L291.95 748.34 L292.92 749.54 L293.90 750.62 L294.87 751.56 L295.85 752.38 L296.82 753.06 L297.80 753.61 L298.78 754.02 L299.75 754.30 L300.73 754.43 L301.70 754.43 L302.68 754.30 L303.65 754.02 L304.63 753.61 L305.61 753.06 L306.58 752.38 L307.56 751.56 L308.53 750.62 L309.51 749.54 L310.49 748.34 L311.46 747.01 L312.44 745.57 L313.41 744.00 L314.39 742.32 L315.36 740.53 L316.34 738.63 L317.32 736.64 L318.29 734.54 L319.27 732.35 L320.24 730.07 L321.22 727.71 L322.20 725.27 L323.17 722.75 L324.15 720.18 L325.12 717.53 L326.10 714.84 L327.07 712.09 L328.05 709.30 L329.03 706.48 L330.00 703.62 L330.98 700.74 L331.95 697.85 L332.93 694.94 L333.91 692.02 L334.88 689.11 L335.86 686.20 L336.83 683.31 L337.81 680.45 L338.78 677.60 L339.76 674.80 L340.74 672.03 L341.71 669.31 L342.69 666.64 L343.66 664.03 L344.64 661.48 L345.62 659.00 L346.59 656.60 L347.57 654.28 L348.54 652.05 L349.52 649.90 L350.49 647.85 L351.47 645.90 L352.45 644.06 L353.42 642.32 L354.40 640.70 L355.37 639.20 L356.35 637.81 L357.32 636.54 L358.30 635.40 L359.28 634.39 L360.25 633.51 L361.23 632.76 L362.20 632.15 L363.18 631.67 L364.16 631.33 L365.13 631.12 L366.11 631.05 L367.08 631.12 L368.06 631.33 L369.03 631.67 L370.01 632.15 L370.99 632.76 L371.96 633.51 L372.94 634.39 L373.91 635.40 L374.89 636.54 L375.87 637.81 L376.84 639.20 L377.82 640.70 L378.79 642.32 L379.77 644.06 L380.74 645.90 L381.72 647.85 L382.70 649.90 L383.67 652.05 L384.65 654.28 L385.62 656.60 L386.60 659.00 L387.58 661.48 L388.55 664.03 L389.53 666.64 L390.50 669.31 L391.48 672.03 L392.45 674.80 L393.43 677.60 L394.41 680.45 L395.38 683.31 L396.36 686.20 L397.33 689.11 L398.31 692.02 L399.28 694.94 L400.26 697.85 L401.24 700.74 L402.21 703.62 L403.19 706.48 L404.16 709.30 L405.14 712.09 L406.12 714.84 L407.09 717.53 L408.07 720.18 L409.04 722.75 L410.02 725.27 L410.99 727.71 L411.97 730.07 L412.95 732.35 L413.92 734.54 L414.90 736.64 L415.87 738.63 L416.85 740.53 L417.83 742.32 L418.80 744.00 L419.78 745.57 L420.75 747.01 L421.73 748.34 L422.70 749.54 L423.68 750.62 L424.66 751.56 L425.63 752.38 L426.61 753.06 L427.58 753.61 L428.56 754.02 L429.54 754.30 L430.51 754.43 L431.49 754.43 L432.46 754.30 L433.44 754.02 L434.41 753.61 L435.39 753.06 L436.37 752.38 L437.34 751.56 L438.32 750.62 L439.29 749.54 L440.27 748.34 L441.24 747.01 L442.22 745.57 L443.20 744.00 L444.17 742.32 L445.15 740.53 L446.12 738.63 L447.10 736.64 L448.08 734.54 L449.05 732.35 L450.03 730.07 L451.00 727.71 L451.98 725.27 L452.95 722.75 L453.93 720.18 L454.91 717.53 L455.88 714.84 L456.86 712.09 L457.83 709.30 L458.81 706.48 L459.79 703.62 L460.76 700.74 L461.74 697.85 L462.71 694.94 L463.69 692.02 L464.66 689.11 L465.64 686.20 L466.62 683.31 L467.59 680.45 L468.57 677.60 L469.54 674.80 L470.52 672.03 L471.50 669.31 L472.47 666.64 L473.45 664.03 L474.42 661.48 L475.40 659.00 L476.37 656.60 L477.35 654.28 L478.33 652.05 L479.30 649.90 L480.28 647.85 L481.25 645.90 L482.23 644.06 L483.21 642.32 L484.18 640.70 L485.16 639.20 L486.13 637.81 L487.11 636.54 L488.08 635.40 L489.06 634.39 L490.04 633.51 L491.01 632.76 L491.99 632.15 L492.96 631.67 L493.94 631.33 L494.91 631.12 L495.89 631.05" fill="none" stroke="#ff6347" stroke-width="2.2" stroke-dasharray="11.815 2.946 1.842 2.946" clip-path="url(#c3)"/>
<line x1="515.40" y1="631.05" x2="520.90" y2="631.05" stroke="#000" stroke-width="1.40"/>
<text transform="translate(525.70 637.15) rotate(0.05) scale(0.960 1)" font-size="15.28" text-anchor="start">100</text>
<line x1="515.40" y1="692.75" x2="520.90" y2="692.75" stroke="#000" stroke-width="1.40"/>
<text transform="translate(525.70 698.85) rotate(0.05) scale(0.960 1)" font-size="15.28" text-anchor="start">0</text>
<line x1="515.40" y1="754.45" x2="520.90" y2="754.45" stroke="#000" stroke-width="1.40"/>
<text transform="translate(525.70 760.55) rotate(0.05) scale(0.960 1)" font-size="15.28" text-anchor="start">−100</text>
<g transform="translate(585.40 706.96) rotate(-90)"><text font-size="18.40">Φ [V]</text></g>
<rect x="87.10" y="600.35" width="428.30" height="166.00" fill="none" stroke="#000" stroke-width="1.55"/>
<rect x="86.90" y="600.35" width="125.20" height="29.80" fill="#f5deb3" stroke="#000" stroke-width="1.4"/>
<text transform="translate(93.30 620.35) rotate(0.05)" font-size="18.50"><tspan x="0.00" y="0.00" font-style="oblique">ω</tspan><tspan x="15.49" y="0.00">/</tspan><tspan x="21.72" y="0.00" font-style="oblique">ω</tspan><tspan x="37.22" y="3.04" font-style="oblique" font-size="12.95">r</tspan><tspan x="48.93" y="0.00">= 2.05</tspan></text>
</g>
<text transform="translate(301.25 814.20) rotate(0.05)" font-size="18.40" text-anchor="middle">t [ns]</text>
</svg></body></html>
